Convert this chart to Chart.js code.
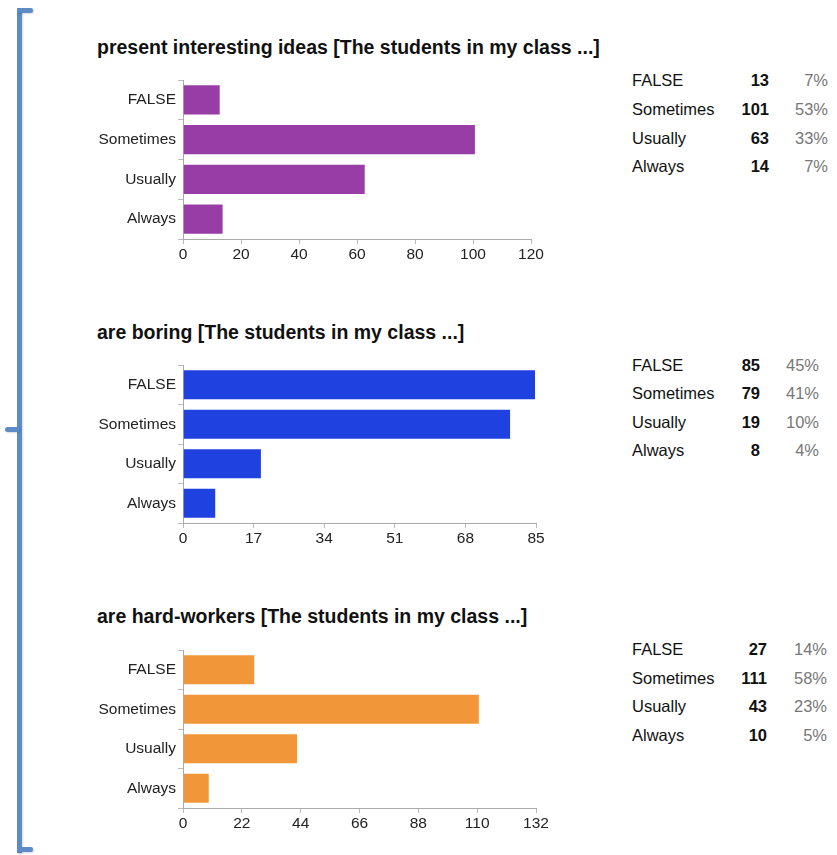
<!DOCTYPE html>
<html>
<head>
<meta charset="utf-8">
<script src="https://cdn.jsdelivr.net/npm/chart.js@4/dist/chart.umd.min.js"></script>
<style>
  body { margin: 0; background: #fff; font-family: "Liberation Sans", Arial, sans-serif; }
  #page { position: relative; width: 837px; height: 855px; overflow: hidden; }
  .title { position: absolute; left: 97px; font-weight: bold; font-size: 19.5px; line-height: 22px; color: #111; white-space: nowrap; }
  canvas { position: absolute; left: 90px; }
  .row { position: absolute; left: 632px; font-size: 16.5px; color: #111; height: 20px; line-height: 20px; }
  .row span { position: absolute; top: 0; white-space: nowrap; }
  .num { font-weight: bold; text-align: right; width: 60px; }
  .pct { color: #777; text-align: right; width: 60px; }
  .br { position: absolute; background: #5b8cc8; box-shadow: 1px 1px 2px rgba(0,0,0,0.15); }
</style>
</head>
<body>
<div id="page">
  <div class="br" style="left:17px;top:8px;width:5px;height:845px;"></div>
  <div class="br" style="left:17px;top:8px;width:16px;height:5px;border-radius:0 2px 2px 0;"></div>
  <div class="br" style="left:17px;top:847px;width:16px;height:5px;border-radius:0 2px 2px 0;"></div>
  <div class="br" style="left:5px;top:427px;width:14px;height:5px;border-radius:3px 0 0 3px;"></div>

  <div class="title" style="top:36px;">present interesting ideas [The students in my class ...]</div>
  <canvas id="c1" width="461" height="190" style="top:75px;"></canvas>

  <div class="title" style="top:321px;">are boring [The students in my class ...]</div>
  <canvas id="c2" width="466" height="189" style="top:360px;"></canvas>

  <div class="title" style="top:605px;">are hard-workers [The students in my class ...]</div>
  <canvas id="c3" width="466" height="189" style="top:645px;"></canvas>
</div>
<script>
const categories = ['FALSE', 'Sometimes', 'Usually', 'Always'];

const interestingValues = [13, 101, 63, 14];
const interestingPct = ['7%', '53%', '33%', '7%'];

const boringValues = [85, 79, 19, 8];
const boringPct = ['45%', '41%', '10%', '4%'];

const hardValues = [27, 111, 43, 10];
const hardPct = ['14%', '58%', '23%', '5%'];

// x axis ends and steps as printed under each chart
const interestingAxis = { max: 120, step: 20 };
const boringAxis = { max: 85, step: 17 };
const hardAxis = { max: 132, step: 22 };

const tickFont = { family: '"Liberation Sans", Arial, sans-serif', size: 15.5 };

function makeChart(id, values, color, axis) {
    const ctx = document.getElementById(id).getContext('2d');
    return new Chart(ctx, {
        type: 'bar',
        data: {
            labels: categories,
            datasets: [{
                data: values,
                backgroundColor: color,
                borderColor: 'rgba(255,255,255,0.35)',
                borderWidth: 1,
                barPercentage: 0.78,
                categoryPercentage: 1
            }]
        },
        options: {
            indexAxis: 'y',
            responsive: false,
            animation: false,
            layout: { padding: { top: 5, right: 20, left: 0, bottom: 0 } },
            plugins: { legend: { display: false }, tooltip: { enabled: false } },
            scales: {
                x: {
                    min: 0,
                    max: axis.max,
                    afterFit: function(scale) { scale.height = 26; },
                    ticks: { stepSize: axis.step, color: '#222', font: tickFont, padding: 1 },
                    grid: { drawOnChartArea: false, tickLength: 5, color: '#bbb' },
                    border: { color: '#aaa' }
                },
                y: {
                    afterFit: function(scale) {
                        scale.width = 93;
                        scale.paddingTop = 0;
                        scale.paddingBottom = 0;
                    },
                    ticks: { color: '#222', font: tickFont, padding: 2 },
                    grid: { drawOnChartArea: false, tickLength: 5, color: '#bbb' },
                    border: { color: '#aaa' }
                }
            }
        }
    });
}

function makeTable(values, pcts, rowTops, numRight, pctRight) {
    const page = document.getElementById('page');
    categories.forEach(function(cat, i) {
        const row = document.createElement('div');
        row.className = 'row';
        row.style.top = rowTops[i] + 'px';
        row.innerHTML =
            '<span style="left:0">' + cat + '</span>' +
            '<span class="num" style="left:' + (numRight - 632 - 60) + 'px;">' + values[i] + '</span>' +
            '<span class="pct" style="left:' + (pctRight - 632 - 60) + 'px;">' + pcts[i] + '</span>';
        page.appendChild(row);
    });
}

makeChart('c1', interestingValues, '#983da6', interestingAxis);
makeChart('c2', boringValues, '#1f41e0', boringAxis);
makeChart('c3', hardValues, '#f1973a', hardAxis);

makeTable(interestingValues, interestingPct, [70, 99, 128, 156], 769, 828);
makeTable(boringValues, boringPct, [355, 383, 412, 440], 760, 819);
makeTable(hardValues, hardPct, [639, 668, 696, 725], 767, 827);
</script>
</body>
</html>
